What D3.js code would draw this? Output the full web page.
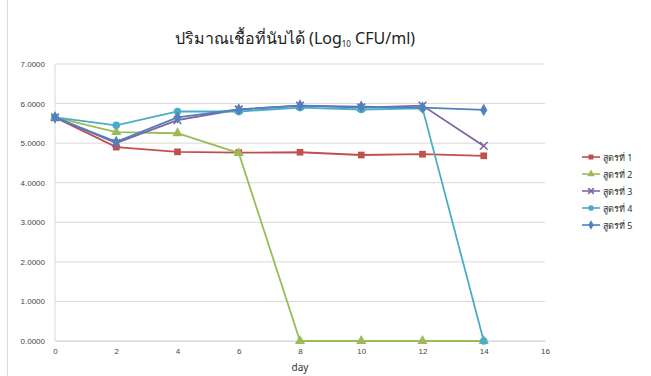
<!DOCTYPE html>
<html>
<head>
<meta charset="utf-8">
<script src="https://cdn.jsdelivr.net/npm/d3@7"></script>
<style>
  body { margin: 0; background: #fff; }
  svg { font-family: "Noto Sans", "DejaVu Sans", sans-serif; }
</style>
</head>
<body>
<svg width="651" height="376"></svg>
<script>
const days = [0, 2, 4, 6, 8, 10, 12, 14];
const seriesNames = ['สูตรที่ 1', 'สูตรที่ 2', 'สูตรที่ 3', 'สูตรที่ 4', 'สูตรที่ 5'];
const f1 = [5.65, 4.90, 4.78, 4.76, 4.77, 4.70, 4.72, 4.68];
const f2 = [5.65, 5.28, 5.25, 4.75, 0, 0, 0, 0];
const f3 = [5.65, 5.00, 5.58, 5.85, 5.95, 5.90, 5.95, 4.93];
const f4 = [5.65, 5.45, 5.80, 5.80, 5.90, 5.85, 5.88, 0];
const f5 = [5.65, 5.03, 5.65, 5.85, 5.95, 5.92, 5.90, 5.84];
const yTicks = [0, 1, 2, 3, 4, 5, 6, 7];
const xTicks = [0, 2, 4, 6, 8, 10, 12, 14, 16];
const colors = ['#c0504d', '#9bbb59', '#8064a2', '#4bacc6', '#4f81bd'];
const symbols = ['square', 'triangle', 'x', 'circle', 'diamond'];

const svg = d3.select('svg');
const margin = {left: 55, right: 106, top: 64, bottom: 35};
const width = 651 - margin.left - margin.right;
const height = 376 - margin.top - margin.bottom;

const x = d3.scaleLinear().domain([0, 16]).range([0, width]);
const y = d3.scaleLinear().domain([0, 7]).range([height, 0]);

// chart border
svg.append('line')
    .attr('x1', 7.5).attr('x2', 7.5).attr('y1', 0).attr('y2', 376)
    .style('stroke', '#d9d9d9');

svg.append('text')
    .attr('x', 295).attr('y', 44)
    .attr('text-anchor', 'middle')
    .style('font-size', '16px')
    .style('fill', '#222')
    .call(t => {
        t.append('tspan').text('ปริมาณเชื้อที่นับได้ (Log');
        t.append('tspan').attr('dy', 3).style('font-size', '8px').text('10');
        t.append('tspan').attr('dy', -3).text(' CFU/ml)');
    });

const g = svg.append('g')
    .attr('transform', 'translate(' + margin.left + ',' + margin.top + ')');

g.append('g')
    .attr('class', 'grid')
    .selectAll('line')
    .data(yTicks)
    .enter().append('line')
    .attr('x1', 0).attr('x2', width)
    .attr('y1', d => y(d)).attr('y2', d => y(d))
    .style('stroke', '#d9d9d9');

g.append('line')
    .attr('x1', 0).attr('x2', 0).attr('y1', 0).attr('y2', height)
    .style('stroke', '#d9d9d9');

let yAxis = d3.axisLeft(y).tickValues(yTicks).tickFormat(d3.format('.4f')).tickSize(0).tickPadding(10);
g.append('g').call(yAxis)
    .call(a => a.select('.domain').remove())
    .selectAll('text').style('font-size', '8px').style('fill', '#444');

let xAxis = d3.axisBottom(x).tickValues(xTicks).tickSize(0).tickPadding(7);
g.append('g')
    .attr('transform', 'translate(0,' + height + ')')
    .call(xAxis)
    .call(a => a.select('.domain').style('stroke', '#d9d9d9'))
    .selectAll('text').style('font-size', '8px').style('fill', '#444');

svg.append('text')
    .attr('x', margin.left + x(8)).attr('y', 371)
    .attr('text-anchor', 'middle')
    .style('font-size', '10px').style('fill', '#333')
    .text('day');

const allSeries = [f1, f2, f3, f4, f5];
const line = d3.line().x((d, i) => x(days[i])).y(d => y(d));

let drawMarker = (sel, sym, color, size) => {
    if (sym === 'x') {
        sel.append('path')
            .attr('d', d3.symbol(d3.symbolTimes, size * 0.9)())
            .style('stroke', color).style('stroke-width', 1.6).style('fill', 'none');
    } else {
        const type = {square: d3.symbolSquare, triangle: d3.symbolTriangle,
                      circle: d3.symbolCircle, diamond: d3.symbolDiamond}[sym];
        sel.append('path')
            .attr('d', d3.symbol(type, size)())
            .style('fill', color);
    }
};

allSeries.forEach((vals, k) => {
    const sg = g.append('g');
    sg.append('path')
        .datum(vals)
        .attr('d', line)
        .style('fill', 'none')
        .style('stroke', colors[k])
        .style('stroke-width', 1.8);
    sg.selectAll('.pt')
        .data(vals)
        .enter().append('g')
        .attr('class', 'pt')
        .attr('transform', (d, i) => 'translate(' + x(days[i]) + ',' + y(d) + ')')
        .each(function() { drawMarker(d3.select(this), symbols[k], colors[k], 45); });
});

// legend
const legend = svg.append('g').attr('transform', 'translate(582,157)');
seriesNames.forEach((name, k) => {
    const lg = legend.append('g').attr('transform', 'translate(0,' + (k * 17) + ')');
    lg.append('line').attr('x1', 0).attr('x2', 18)
        .style('stroke', colors[k]).style('stroke-width', 1.6);
    drawMarker(lg.append('g').attr('transform', 'translate(9,0)'), symbols[k], colors[k], 25);
    lg.append('text').attr('x', 21).attr('y', 3.5)
        .style('font-size', '9px').style('fill', '#333')
        .text(name);
});
</script>
</body>
</html>
